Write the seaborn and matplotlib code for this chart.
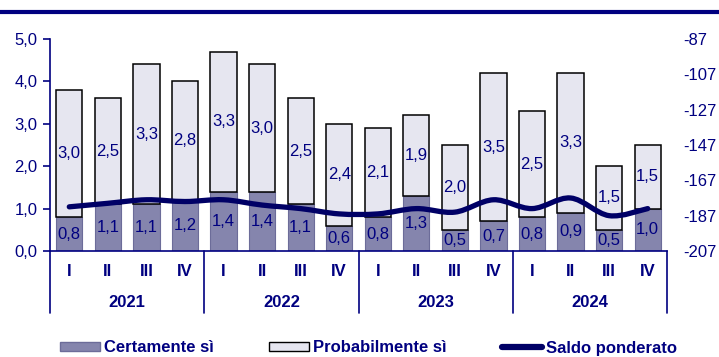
import numpy as np
import pandas as pd
import matplotlib
matplotlib.use("Agg")
import matplotlib.pyplot as plt
import matplotlib.transforms as mtransforms
from matplotlib.path import Path
from matplotlib.patches import PathPatch, Patch
from matplotlib.lines import Line2D
from matplotlib.ticker import FuncFormatter
import seaborn as sns

# Quarterly survey data
years = ["2021", "2022", "2023", "2024"]
quarters = ["I", "II", "III", "IV"]
certamente = [0.8, 1.1, 1.1, 1.2, 1.4, 1.4, 1.1, 0.6, 0.8, 1.3, 0.5, 0.7, 0.8, 0.9, 0.5, 1.0]
probabilmente = [3.0, 2.5, 3.3, 2.8, 3.3, 3.0, 2.5, 2.4, 2.1, 1.9, 2.0, 3.5, 2.5, 3.3, 1.5, 1.5]
saldo = [-182, -180, -178, -179, -178, -181, -183, -186, -186, -183, -185, -178, -183, -177, -187, -183]
series_names = ["Certamente sì", "Probabilmente sì", "Saldo ponderato"]

left_ticks = [0, 1, 2, 3, 4, 5]
right_ticks = [-207, -187, -167, -147, -127, -107, -87]

NAVY = "#000080"
LINE = "#000066"
DARK = "#8585AD"
DARK_EDGE = "#6C6C99"
LIGHT = "#E6E6F0"

sns.set_theme(style="white")
plt.rcParams["font.family"] = ["Liberation Sans", "DejaVu Sans"]
plt.rcParams["axes.unicode_minus"] = False

df = pd.DataFrame({
    "periodo": [f"{y} {q}" for y in years for q in quarters],
    "certamente": certamente,
    "probabilmente": probabilmente,
})

W, H = 719, 357
fig = plt.figure(figsize=(W / 100, H / 100), dpi=100)
ax = fig.add_axes([50 / W, 1 - 251 / H, 617 / W, 212 / H])

# Stacked bars: "certamente" at the base, "probabilmente" on top of it
sns.barplot(data=df, x="periodo", y="certamente", color=DARK, saturation=1,
            edgecolor=DARK_EDGE, linewidth=0.8, width=0.68, errorbar=None, ax=ax)
sns.barplot(data=df, x="periodo", y="probabilmente", color=LIGHT, saturation=1,
            bottom=np.array(certamente), edgecolor="black", linewidth=1.1,
            width=0.68, errorbar=None, ax=ax)

fmt = lambda v: f"{v:.1f}".replace(".", ",")
ax.bar_label(ax.containers[0], labels=[fmt(v) for v in certamente],
             label_type="center", color=NAVY, fontsize=12)
ax.bar_label(ax.containers[1], labels=[fmt(v) for v in probabilmente],
             label_type="center", color=NAVY, fontsize=12)

ax.set_xlim(-0.5, len(certamente) - 0.5)
ax.set_ylim(0, 5)
ax.set_yticks(left_ticks)
ax.yaxis.set_major_formatter(FuncFormatter(lambda v, _: fmt(v)))
ax.tick_params(axis="y", direction="out", length=5, width=1.2, color=NAVY,
               labelcolor=NAVY, labelsize=12, pad=4, left=True)
ax.tick_params(axis="x", length=0, labelbottom=False)
ax.set_xlabel("")
ax.set_ylabel("")
for side in ("top", "right"):
    ax.spines[side].set_visible(False)
for side in ("left", "bottom"):
    ax.spines[side].set_color(NAVY)
    ax.spines[side].set_linewidth(1.2)

# Two-level category axis: quarters and years
trans = mtransforms.blended_transform_factory(ax.transData, ax.transAxes)
for i in range(len(certamente)):
    ax.text(i, -0.095, quarters[i % 4], transform=trans, ha="center", va="center",
            fontsize=12, fontweight="bold", color=NAVY)
for j, y in enumerate(years):
    ax.text(4 * j + 1.5, -0.245, y, transform=trans, ha="center", va="center",
            fontsize=12, fontweight="bold", color=NAVY)
for xs in np.arange(-0.5, len(certamente), 4):
    ax.plot([xs, xs], [0, -0.292], transform=trans, color=NAVY, lw=1.2,
            clip_on=False)

# Weighted balance on the right axis, drawn as a smooth curve
ax2 = ax.twinx()
ax2.set_ylim(right_ticks[0], right_ticks[-1])
ax2.set_yticks(right_ticks)
ax2.tick_params(axis="y", length=0, labelcolor=NAVY, labelsize=12, pad=12)
ax2.grid(False)
for side in ax2.spines:
    ax2.spines[side].set_visible(False)

pts = np.column_stack([np.arange(len(saldo)), np.array(saldo, dtype=float)])
verts = [pts[0]]
codes = [Path.MOVETO]
n = len(pts)
for i in range(n - 1):
    p0 = pts[max(i - 1, 0)]
    p1 = pts[i]
    p2 = pts[i + 1]
    p3 = pts[min(i + 2, n - 1)]
    verts += [p1 + (p2 - p0) / 6, p2 - (p3 - p1) / 6, p2]
    codes += [Path.CURVE4] * 3
ax2.add_patch(PathPatch(Path(verts, codes), fill=False, edgecolor=LINE, lw=3.8,
                        capstyle="round", joinstyle="round"))

# Rule under the title
fig.add_artist(Line2D([0, 1], [1 - 12 / H] * 2, transform=fig.transFigure,
                      color=NAVY, lw=3))

handles = [Patch(facecolor=DARK, edgecolor=DARK_EDGE),
           Patch(facecolor=LIGHT, edgecolor="black"),
           Line2D([], [], color=LINE, lw=4.5)]
fig.legend(handles, series_names, loc="center left",
           bbox_to_anchor=(60 / W, 1 - 348 / H), ncol=3, frameon=False,
           prop={"weight": "bold", "size": 12}, labelcolor=NAVY,
           handlelength=2.4, handleheight=0.5, handletextpad=0.25,
           columnspacing=3.3, borderpad=0, borderaxespad=0)

fig.savefig("out.png", dpi=100)
